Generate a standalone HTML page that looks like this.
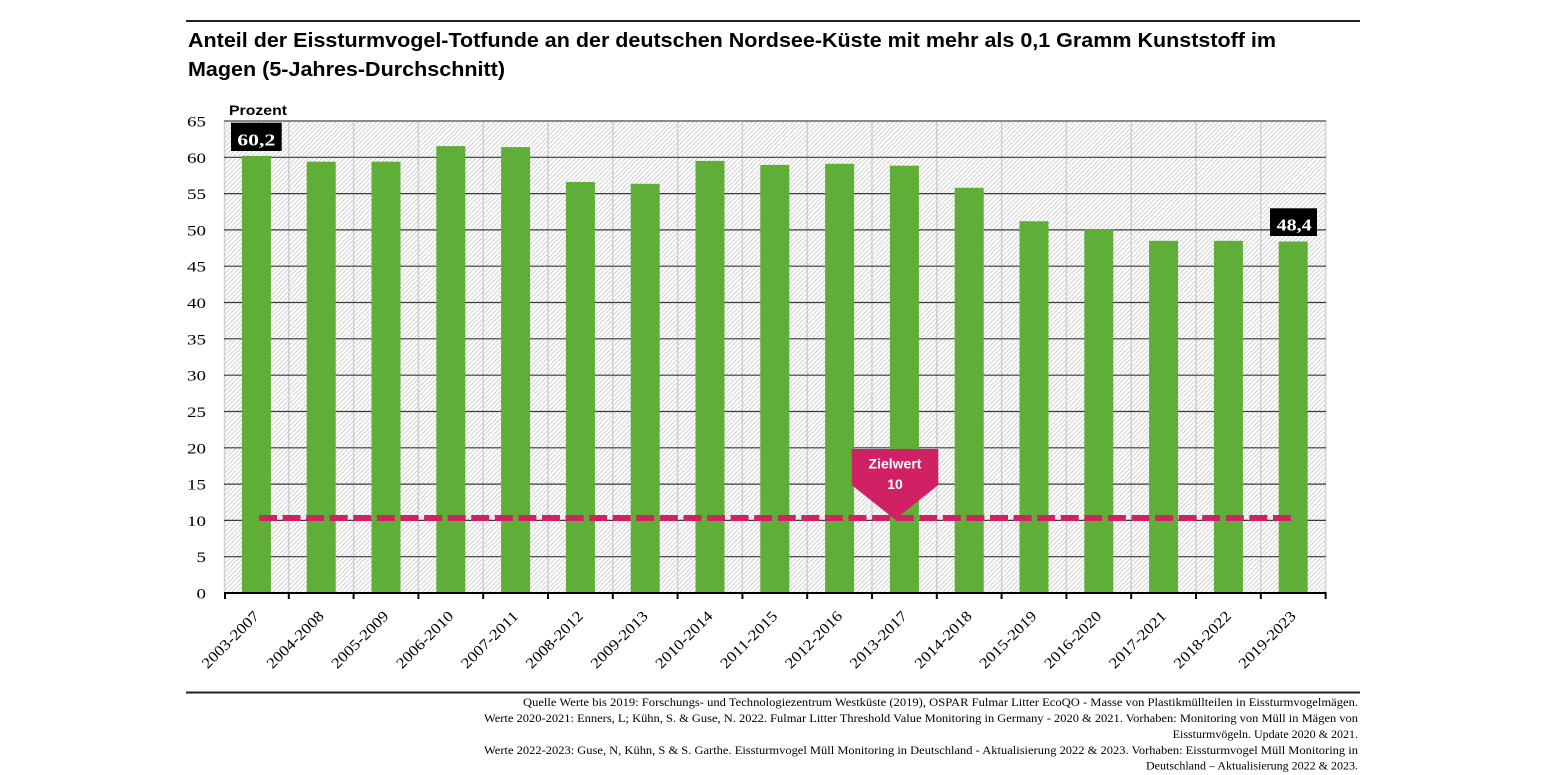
<!DOCTYPE html>
<html><head><meta charset="utf-8"><style>
html,body{margin:0;padding:0;background:#fff;}
svg{display:block;}
</style></head><body>
<svg width="1545" height="775" viewBox="0 0 1545 775" xmlns="http://www.w3.org/2000/svg">
<defs>
<pattern id="h" patternUnits="userSpaceOnUse" width="3.2" height="3.2" patternTransform="rotate(45)">
<rect x="0" y="0" width="1" height="3.2" fill="#d0d0d0"/>
</pattern>
</defs>
<rect width="1545" height="775" fill="#fff"/>
<!-- top rule -->
<rect x="186" y="20" width="1174" height="2" fill="#222"/>
<!-- title -->
<g font-family="'Liberation Sans', sans-serif" font-weight="bold" font-size="20" fill="#000">
<text x="188" y="47" textLength="1088" lengthAdjust="spacingAndGlyphs">Anteil der Eissturmvogel-Totfunde an der deutschen Nordsee-Küste mit mehr als 0,1 Gramm Kunststoff im</text>
<text x="188" y="76" textLength="317" lengthAdjust="spacingAndGlyphs">Magen (5-Jahres-Durchschnitt)</text>
<text x="229" y="115" font-size="14" textLength="58" lengthAdjust="spacingAndGlyphs">Prozent</text>
</g>
<!-- plot background -->
<rect x="224" y="121" width="1101.6" height="472" fill="#fff"/>
<rect x="224" y="121" width="1101.6" height="472" fill="url(#h)"/>
<!-- vertical grid -->
<g stroke="#cfcfcf" stroke-width="1.5">
<line x1="224.5" y1="121" x2="224.5" y2="593"/>
<line x1="288.8" y1="121" x2="288.8" y2="593"/>
<line x1="353.6" y1="121" x2="353.6" y2="593"/>
<line x1="418.4" y1="121" x2="418.4" y2="593"/>
<line x1="483.2" y1="121" x2="483.2" y2="593"/>
<line x1="548" y1="121" x2="548" y2="593"/>
<line x1="612.8" y1="121" x2="612.8" y2="593"/>
<line x1="677.6" y1="121" x2="677.6" y2="593"/>
<line x1="742.4" y1="121" x2="742.4" y2="593"/>
<line x1="807.2" y1="121" x2="807.2" y2="593"/>
<line x1="872" y1="121" x2="872" y2="593"/>
<line x1="936.8" y1="121" x2="936.8" y2="593"/>
<line x1="1001.6" y1="121" x2="1001.6" y2="593"/>
<line x1="1066.4" y1="121" x2="1066.4" y2="593"/>
<line x1="1131.2" y1="121" x2="1131.2" y2="593"/>
<line x1="1196" y1="121" x2="1196" y2="593"/>
<line x1="1260.8" y1="121" x2="1260.8" y2="593"/>
<line x1="1325.6" y1="121" x2="1325.6" y2="593" stroke="#d8d8d8" stroke-width="2"/>
</g>
<!-- horizontal grid -->
<g stroke="#3a3a3a" stroke-width="1.2">
<line x1="224" y1="556.7" x2="1326" y2="556.7"/>
<line x1="224" y1="520.4" x2="1326" y2="520.4"/>
<line x1="224" y1="484.1" x2="1326" y2="484.1"/>
<line x1="224" y1="447.8" x2="1326" y2="447.8"/>
<line x1="224" y1="411.5" x2="1326" y2="411.5"/>
<line x1="224" y1="375.2" x2="1326" y2="375.2"/>
<line x1="224" y1="338.8" x2="1326" y2="338.8"/>
<line x1="224" y1="302.5" x2="1326" y2="302.5"/>
<line x1="224" y1="266.2" x2="1326" y2="266.2"/>
<line x1="224" y1="229.9" x2="1326" y2="229.9"/>
<line x1="224" y1="193.6" x2="1326" y2="193.6"/>
<line x1="224" y1="157.3" x2="1326" y2="157.3"/>
</g>
<line x1="224" y1="121" x2="1326" y2="121" stroke="#8a8a8a" stroke-width="2"/>
<!-- bars -->
<g fill="#5eae37">
<rect x="241.9" y="155.9" width="29" height="437.1"/>
<rect x="306.7" y="161.7" width="29" height="431.3"/>
<rect x="371.5" y="161.7" width="29" height="431.3"/>
<rect x="436.3" y="146.1" width="29" height="446.9"/>
<rect x="501.1" y="147.1" width="29" height="445.9"/>
<rect x="565.9" y="182.0" width="29" height="411.0"/>
<rect x="630.7" y="183.8" width="29" height="409.2"/>
<rect x="695.5" y="160.9" width="29" height="432.1"/>
<rect x="760.3" y="164.9" width="29" height="428.1"/>
<rect x="825.1" y="163.8" width="29" height="429.2"/>
<rect x="889.9" y="165.7" width="29" height="427.3"/>
<rect x="954.7" y="187.8" width="29" height="405.2"/>
<rect x="1019.5" y="221.2" width="29" height="371.8"/>
<rect x="1084.3" y="229.6" width="29" height="363.4"/>
<rect x="1149.1" y="240.8" width="29" height="352.2"/>
<rect x="1213.9" y="240.8" width="29" height="352.2"/>
<rect x="1278.7" y="241.5" width="29" height="351.5"/>
</g>
<!-- axis -->
<line x1="224" y1="593" x2="1326.6" y2="593" stroke="#000" stroke-width="2"/>
<g stroke="#000" stroke-width="2">
<line x1="225" y1="593" x2="225" y2="599"/>
<line x1="288.8" y1="593" x2="288.8" y2="599"/>
<line x1="353.6" y1="593" x2="353.6" y2="599"/>
<line x1="418.4" y1="593" x2="418.4" y2="599"/>
<line x1="483.2" y1="593" x2="483.2" y2="599"/>
<line x1="548" y1="593" x2="548" y2="599"/>
<line x1="612.8" y1="593" x2="612.8" y2="599"/>
<line x1="677.6" y1="593" x2="677.6" y2="599"/>
<line x1="742.4" y1="593" x2="742.4" y2="599"/>
<line x1="807.2" y1="593" x2="807.2" y2="599"/>
<line x1="872" y1="593" x2="872" y2="599"/>
<line x1="936.8" y1="593" x2="936.8" y2="599"/>
<line x1="1001.6" y1="593" x2="1001.6" y2="599"/>
<line x1="1066.4" y1="593" x2="1066.4" y2="599"/>
<line x1="1131.2" y1="593" x2="1131.2" y2="599"/>
<line x1="1196" y1="593" x2="1196" y2="599"/>
<line x1="1260.8" y1="593" x2="1260.8" y2="599"/>
<line x1="1325.6" y1="593" x2="1325.6" y2="599"/>
</g>
<!-- target line -->
<line x1="259" y1="518" x2="1291" y2="518" stroke="#cf2163" stroke-width="6" stroke-dasharray="18 5.58"/>
<!-- Zielwert marker -->
<polygon points="851.7,449 938.3,449 938.3,485 895,519.5 851.7,485" fill="#cf2163"/>
<g font-family="'Liberation Sans', sans-serif" font-weight="bold" font-size="14" fill="#fff" text-anchor="middle">
<text x="895" y="468.5">Zielwert</text>
<text x="895" y="489">10</text>
</g>
<!-- value labels -->
<rect x="231" y="122.7" width="50.7" height="28.3" fill="#000"/>
<text x="237.3" y="145.5" font-family="'Liberation Serif', serif" font-weight="bold" font-size="17" fill="#fff" textLength="38" lengthAdjust="spacingAndGlyphs">60,2</text>
<rect x="1270" y="208.3" width="47" height="27.7" fill="#000"/>
<text x="1276.7" y="230.5" font-family="'Liberation Serif', serif" font-weight="bold" font-size="17" fill="#fff" textLength="35" lengthAdjust="spacingAndGlyphs">48,4</text>
<!-- y tick labels -->
<g font-family="'Liberation Serif', serif" font-size="15" fill="#000">
<text x="187" y="126.5" textLength="19" lengthAdjust="spacingAndGlyphs">65</text>
<text x="187" y="162.8" textLength="19" lengthAdjust="spacingAndGlyphs">60</text>
<text x="187" y="199.1" textLength="19" lengthAdjust="spacingAndGlyphs">55</text>
<text x="187" y="235.4" textLength="19" lengthAdjust="spacingAndGlyphs">50</text>
<text x="187" y="271.7" textLength="19" lengthAdjust="spacingAndGlyphs">45</text>
<text x="187" y="308" textLength="19" lengthAdjust="spacingAndGlyphs">40</text>
<text x="187" y="344.3" textLength="19" lengthAdjust="spacingAndGlyphs">35</text>
<text x="187" y="380.7" textLength="19" lengthAdjust="spacingAndGlyphs">30</text>
<text x="187" y="417" textLength="19" lengthAdjust="spacingAndGlyphs">25</text>
<text x="187" y="453.3" textLength="19" lengthAdjust="spacingAndGlyphs">20</text>
<text x="187" y="489.6" textLength="19" lengthAdjust="spacingAndGlyphs">15</text>
<text x="187" y="525.9" textLength="19" lengthAdjust="spacingAndGlyphs">10</text>
<text x="196.5" y="562.2" textLength="9.5" lengthAdjust="spacingAndGlyphs">5</text>
<text x="196.5" y="598.5" textLength="9.5" lengthAdjust="spacingAndGlyphs">0</text>
</g>
<!-- x labels -->
<g font-family="'Liberation Serif', serif" font-size="15" fill="#000">
<text transform="translate(260,617) rotate(-45)" x="-74" y="0" textLength="74" lengthAdjust="spacingAndGlyphs">2003-2007</text>
<text transform="translate(324.8,617) rotate(-45)" x="-74" y="0" textLength="74" lengthAdjust="spacingAndGlyphs">2004-2008</text>
<text transform="translate(389.6,617) rotate(-45)" x="-74" y="0" textLength="74" lengthAdjust="spacingAndGlyphs">2005-2009</text>
<text transform="translate(454.4,617) rotate(-45)" x="-74" y="0" textLength="74" lengthAdjust="spacingAndGlyphs">2006-2010</text>
<text transform="translate(519.2,617) rotate(-45)" x="-74" y="0" textLength="74" lengthAdjust="spacingAndGlyphs">2007-2011</text>
<text transform="translate(584,617) rotate(-45)" x="-74" y="0" textLength="74" lengthAdjust="spacingAndGlyphs">2008-2012</text>
<text transform="translate(648.8,617) rotate(-45)" x="-74" y="0" textLength="74" lengthAdjust="spacingAndGlyphs">2009-2013</text>
<text transform="translate(713.6,617) rotate(-45)" x="-74" y="0" textLength="74" lengthAdjust="spacingAndGlyphs">2010-2014</text>
<text transform="translate(778.4,617) rotate(-45)" x="-74" y="0" textLength="74" lengthAdjust="spacingAndGlyphs">2011-2015</text>
<text transform="translate(843.2,617) rotate(-45)" x="-74" y="0" textLength="74" lengthAdjust="spacingAndGlyphs">2012-2016</text>
<text transform="translate(908,617) rotate(-45)" x="-74" y="0" textLength="74" lengthAdjust="spacingAndGlyphs">2013-2017</text>
<text transform="translate(972.8,617) rotate(-45)" x="-74" y="0" textLength="74" lengthAdjust="spacingAndGlyphs">2014-2018</text>
<text transform="translate(1037.6,617) rotate(-45)" x="-74" y="0" textLength="74" lengthAdjust="spacingAndGlyphs">2015-2019</text>
<text transform="translate(1102.4,617) rotate(-45)" x="-74" y="0" textLength="74" lengthAdjust="spacingAndGlyphs">2016-2020</text>
<text transform="translate(1167.2,617) rotate(-45)" x="-74" y="0" textLength="74" lengthAdjust="spacingAndGlyphs">2017-2021</text>
<text transform="translate(1232,617) rotate(-45)" x="-74" y="0" textLength="74" lengthAdjust="spacingAndGlyphs">2018-2022</text>
<text transform="translate(1296.8,617) rotate(-45)" x="-74" y="0" textLength="74" lengthAdjust="spacingAndGlyphs">2019-2023</text>
</g>
<!-- bottom rule -->
<rect x="186" y="691.5" width="1174" height="2" fill="#222"/>
<!-- footer -->
<g font-family="'Liberation Serif', serif" font-size="12" fill="#000">
<text x="523" y="706" textLength="835" lengthAdjust="spacingAndGlyphs">Quelle Werte bis 2019: Forschungs- und Technologiezentrum Westküste (2019), OSPAR Fulmar Litter EcoQO - Masse von Plastikmüllteilen in Eissturmvogelmägen.</text>
<text x="484" y="722" textLength="874" lengthAdjust="spacingAndGlyphs">Werte 2020-2021: Enners, L; Kühn, S. &amp; Guse, N. 2022. Fulmar Litter Threshold Value Monitoring in Germany - 2020 &amp; 2021. Vorhaben: Monitoring von Müll in Mägen von</text>
<text x="1358" y="738" text-anchor="end">Eissturmvögeln. Update 2020 &amp; 2021.</text>
<text x="484" y="754" textLength="874" lengthAdjust="spacingAndGlyphs">Werte 2022-2023: Guse, N, Kühn, S &amp; S. Garthe. Eissturmvogel Müll Monitoring in Deutschland - Aktualisierung 2022 &amp; 2023. Vorhaben: Eissturmvogel Müll Monitoring in</text>
<text x="1358" y="769.5" text-anchor="end">Deutschland – Aktualisierung 2022 &amp; 2023.</text>
</g>
</svg>
</body></html>
